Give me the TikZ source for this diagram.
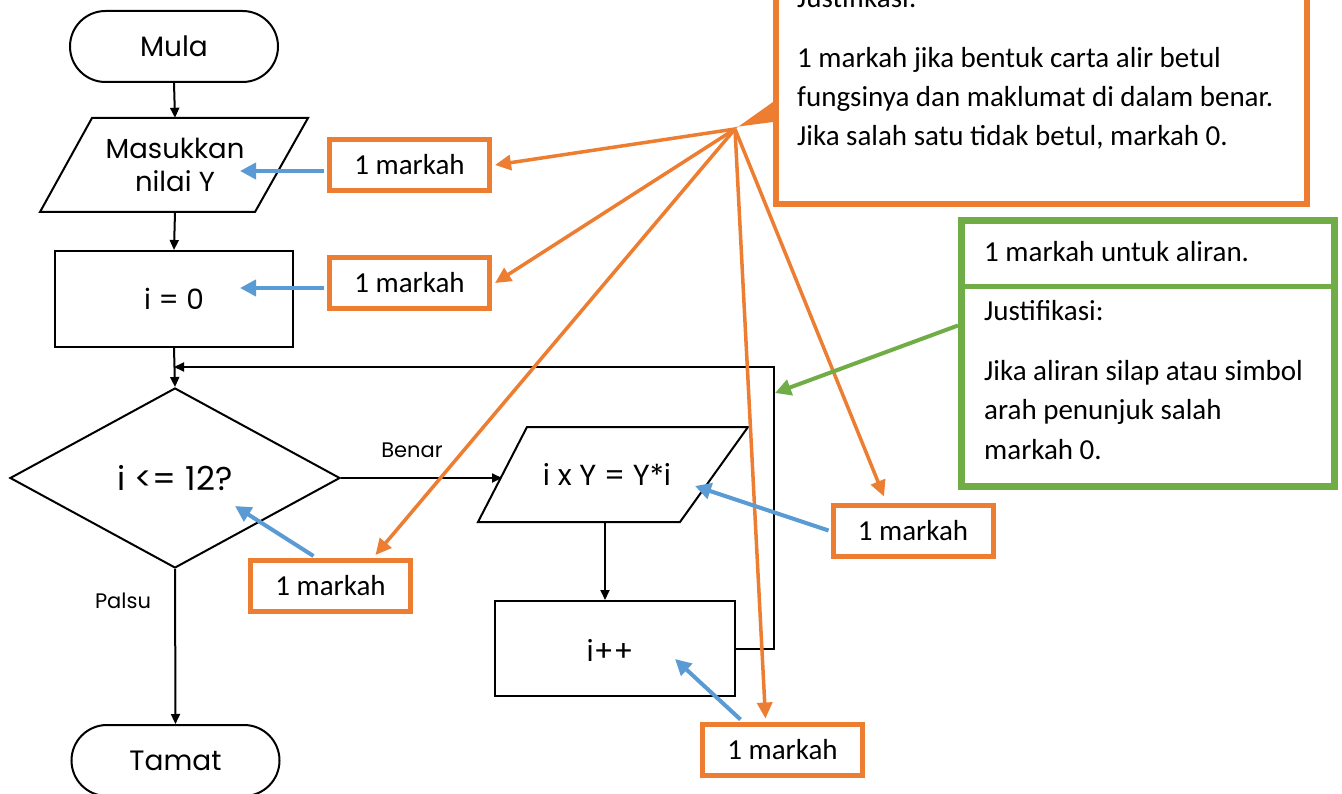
\documentclass[tikz,border=0pt]{standalone}
\usepackage{fontspec}
\setmainfont{Carlito}
\newfontfamily\gothic{Poppins}
\usetikzlibrary{arrows.meta,shapes.geometric,shapes.misc}
\definecolor{orn}{HTML}{ED7D31}
\definecolor{blu}{HTML}{5B9BD5}
\definecolor{grn}{HTML}{70AD47}
\tikzset{
  flow/.style={draw=black, line width=2pt, inner sep=0pt},
  term/.style={flow, rounded rectangle, minimum width=208pt, minimum height=71pt, font=\gothic\fontsize{28}{33}\selectfont},
  iobox/.style={inner sep=0pt, align=center},
  procbox/.style={flow, rectangle},
  dec/.style={flow, diamond, minimum width=330pt, minimum height=180pt},
  blk/.style={line width=2pt, -{Triangle[length=10pt,width=9pt]}},
  mbox/.style={draw=orn, line width=5pt, fill=white, minimum width=160pt, minimum height=51pt, inner sep=0pt, font=\fontsize{29}{35}\selectfont},
  oarr/.style={draw=orn, line width=3.5pt, -{Triangle[length=16pt,width=15pt]}},
  barr/.style={draw=blu, line width=4pt, -{Triangle[length=16pt,width=16pt]}},
  garr/.style={draw=grn, line width=4pt, -{Triangle[length=16pt,width=16pt]}},
  note/.style={anchor=base west, inner sep=0pt, font=\fontsize{29}{39}\selectfont},
}
\begin{document}
\begin{tikzpicture}[x=1pt,y=-1pt]
\useasboundingbox[fill=white] (0,0) rectangle (1342,794);

% flowchart
\node[term] (mula) at (174,46.5) {Mula};
\draw[line width=2pt] (92,118) -- (308,118) -- (255,212) -- (40,212) -- cycle;
\node[iobox, minimum width=160pt, minimum height=94pt, font=\gothic\fontsize{27.5}{33}\selectfont] (inp) at (175,165) {Masukkan\\nilai Y};
\node[procbox, minimum width=238pt, minimum height=96pt, font=\gothic\fontsize{28}{33}\selectfont] (init) at (174,299) {i = 0};
\node[dec, font=\gothic\fontsize{33}{38}\selectfont] (cond) at (175,478) {i <= 12?};
\draw[line width=2pt] (527,427) -- (748,427) -- (680,522) -- (478,522) -- cycle;
\node[iobox, minimum width=200pt, minimum height=95pt, font=\gothic\fontsize{29}{34}\selectfont] (proc) at (607,474.5) {i x Y = Y*i};
\coordinate (procw) at (502,478);
\node[procbox, minimum width=240pt, minimum height=95pt] (inc) at (615,648.5) {};
\node[font=\gothic\fontsize{29}{34}\selectfont] (inct) at (610,650) {i++};
\node[term] (tamat) at (175.5,760.5) {Tamat};

\node[font=\gothic\fontsize{21}{24}\selectfont] (benar) at (412,450) {Benar};
\node[font=\gothic\fontsize{21}{24}\selectfont] (palsu) at (123,601) {Palsu};

\draw[blk] (mula.south) -- (inp.north);
\draw[blk] (inp.south) -- (init.north);
\draw[blk] (init.south) -- (cond.north);
\draw[blk] (cond.east) -- (procw);
\draw[blk] (proc.south -| 605,0) -- (inc.north -| 605,0);
\coordinate (join) at (174,367);
\draw[blk] (inc.east) -- ++(38,0) |- (join);
\draw[blk] (cond.south) -- (tamat.north);

% big orange note
\node[draw=orn, line width=6pt, minimum width=531pt, minimum height=234pt, inner sep=0pt] (obox) at (1041.5,87) {};
\node[note] (oj) at (797,8) {Justifikasi:};
\node[note] (o1) at (797,68) {1 markah jika bentuk carta alir betul};
\node[note] (o2) at (797,107) {fungsinya dan maklumat di dalam benar.};
\node[note] (o3) at (797,146) {Jika salah satu tidak betul, markah 0.};
\coordinate (hub) at (735,129);
\fill[orn] (obox.west |- 0,102) -- (obox.west |- 0,122) -- ([yshift=2pt]hub) -- (hub) -- cycle;

% green note
\node[draw=grn, line width=7pt, minimum width=373pt, minimum height=266pt, inner sep=0pt] (gbox) at (1148,353.5) {};
\draw[grn, line width=5pt] (gbox.west |- 0,287) -- (gbox.east |- 0,287);
\node[note] (g1) at (984,262) {1 markah untuk aliran.};
\node[note] (g2) at (984,321) {Justifikasi:};
\node[note] (g3) at (984,381) {Jika aliran silap atau simbol};
\node[note] (g4) at (984,420) {arah penunjuk salah};
\node[note] (g5) at (984,459) {markah 0.};

% markah boxes
\node[mbox] (m1) at (409.5,165) {1 markah};
\node[mbox] (m2) at (409.5,283) {1 markah};
\node[mbox] (m3) at (330.5,586) {1 markah};
\node[mbox] (m4) at (913,530.5) {1 markah};
\node[mbox] (m5) at (782.5,749.5) {1 markah};

% orange pointers
\draw[oarr] (hub) -- ([xshift=3pt]m1.east);
\draw[oarr] (hub) -- ([xshift=3pt]m2.east);
\draw[oarr] (hub) -- ([xshift=45pt,yshift=3pt]m3.north);
\draw[oarr] (hub) -- ([xshift=-29pt,yshift=6pt]m4.north);
\draw[oarr] (hub) -- ([xshift=-17pt,yshift=3pt]m5.north);

% blue pointers
\coordinate (t1) at (240,171);
\coordinate (t2) at (240,288);
\coordinate (t3) at (235,506);
\coordinate (t4) at (695,486);
\coordinate (t5) at (675,659);
\draw[barr] ([xshift=-3pt,yshift=-6pt]m1.west) -- (t1);
\draw[barr] ([xshift=-3pt,yshift=-5pt]m2.west) -- (t2);
\draw[barr] ([xshift=-17pt,yshift=2pt]m3.north) -- (t3);
\draw[barr] ([xshift=-2pt]m4.west) -- (t4);
\draw[barr] ([xshift=-42pt,yshift=2pt]m5.north) -- (t5);

% green pointer
\coordinate (t6) at (775,393);
\draw[garr] ([yshift=28pt]gbox.west) -- (t6);
\end{tikzpicture}
\end{document}
